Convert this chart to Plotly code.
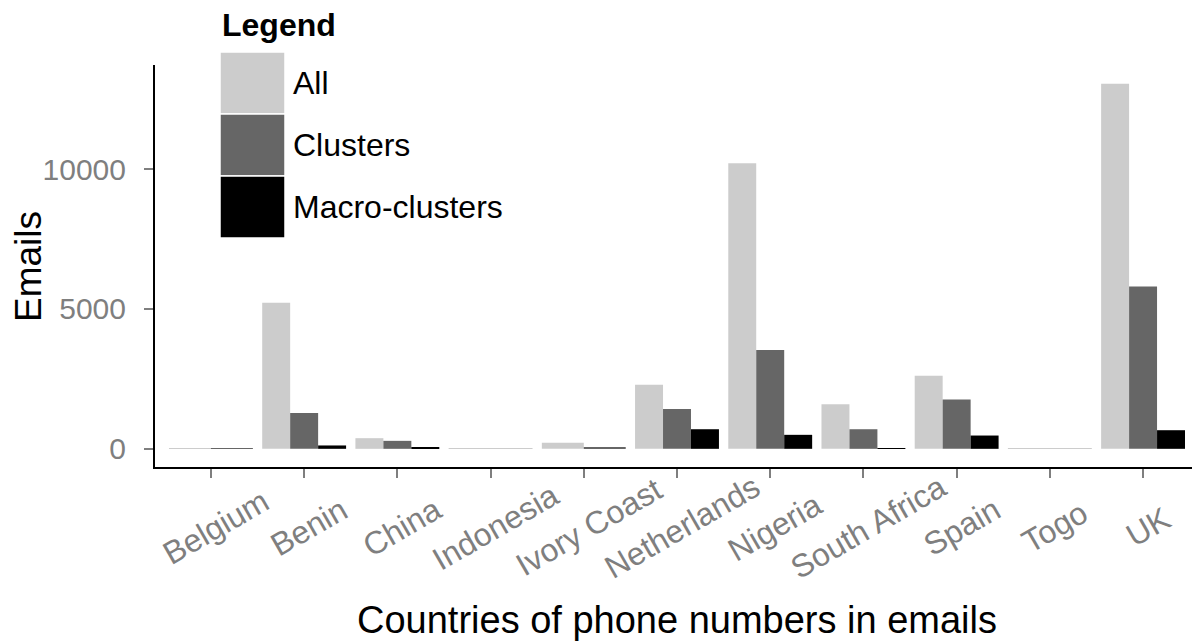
import plotly.graph_objects as go

countries = ["Belgium", "Benin", "China", "Indonesia", "Ivory Coast", "Netherlands",
             "Nigeria", "South Africa", "Spain", "Togo", "UK"]
all_vals = [20, 5225, 380, 5, 215, 2290, 10210, 1590, 2610, 10, 13050]
clusters_vals = [15, 1280, 285, None, 50, 1425, 3530, 700, 1760, None, 5800]
macro_vals = [None, 120, 50, None, None, 700, 500, 20, 475, None, 665]

series_names = ["All", "Clusters", "Macro-clusters"]
series_vals = [all_vals, clusters_vals, macro_vals]
series_colors = ["#cccccc", "#666666", "#000000"]

# ggplot-style dodge: bars of a group share 0.9 of the category width
GROUP_W = 0.9
offsets = [[0.0] * len(countries) for _ in series_vals]
widths = [[0.0] * len(countries) for _ in series_vals]
for j in range(len(countries)):
    present = [i for i, s in enumerate(series_vals) if s[j] is not None]
    n = len(present)
    for k, i in enumerate(present):
        widths[i][j] = GROUP_W / n
        offsets[i][j] = -GROUP_W / 2 + k * GROUP_W / n

fig = go.Figure()
for name, vals, col, off, wd in zip(series_names, series_vals, series_colors, offsets, widths):
    fig.add_trace(go.Bar(x=countries, y=vals, name=name, marker_color=col,
                         marker_line_width=0, offset=off, width=wd, showlegend=False))

FONT = "Liberation Sans, Arial, Helvetica, sans-serif"
PAGE_OFF = 8  # default body margin of the html page
W, H = 1200 - PAGE_OFF, 644 - PAGE_OFF
# plot-area edges in screenshot pixels
L, R, T, B = 155 - PAGE_OFF, 1199 - PAGE_OFF, 65 - PAGE_OFF, 467 - PAGE_OFF


def px_x(p):
    return (p - PAGE_OFF - L) / (R - L)


def px_y(p):
    return (B - (p - PAGE_OFF)) / (B - T)


fig.update_layout(
    width=W, height=H,
    margin=dict(l=L, r=W - R, t=T, b=H - B),
    paper_bgcolor="white", plot_bgcolor="white",
    barmode="overlay",
    font=dict(family=FONT),
    xaxis=dict(type="category", range=[-0.6, 10.6], showgrid=False, zeroline=False,
               automargin=False, showticklabels=False,
               showline=True, linecolor="black", linewidth=2,
               ticks="outside", ticklen=9, tickwidth=2, tickcolor="#7f7f7f"),
    yaxis=dict(range=[-650, 13720], showgrid=False, zeroline=False, automargin=False,
               showline=True, linecolor="black", linewidth=2,
               tickvals=[0, 5000, 10000], ticktext=["0", "5000", "10000"],
               ticks="outside", ticklen=9, tickwidth=2, tickcolor="#7f7f7f",
               ticklabelstandoff=12,
               tickfont=dict(size=30, color="#7f7f7f", family=FONT)),
)

# rotated, centred category labels (ggplot style)
for c in countries:
    fig.add_annotation(text=c, x=c, xref="x", yref="paper", y=px_y(527), xshift=5,
                       textangle=-30, showarrow=False, xanchor="center", yanchor="middle",
                       font=dict(size=32, color="#7f7f7f", family=FONT))

# axis titles
fig.add_annotation(text="Countries of phone numbers in emails", xref="paper", yref="paper",
                   x=px_x(677), y=px_y(620), showarrow=False, xanchor="center", yanchor="middle",
                   font=dict(size=38, color="black", family=FONT))
fig.add_annotation(text="Emails", xref="paper", yref="paper", textangle=-90,
                   x=px_x(28), y=px_y(267), showarrow=False, xanchor="center", yanchor="middle",
                   font=dict(size=37, color="black", family=FONT))

# custom legend (ggplot-style large keys)
fig.add_annotation(text="<b>Legend</b>", xref="paper", yref="paper", x=px_x(220), y=px_y(25),
                   showarrow=False, xanchor="left", yanchor="middle",
                   font=dict(size=32, color="black", family=FONT))
key_left, key_right = 220, 285
key_top, key_h = 52, 62
for i, (name, col) in enumerate(zip(series_names, series_colors)):
    top = key_top + i * key_h
    bot = top + key_h
    fig.add_shape(type="rect", xref="paper", yref="paper",
                  x0=px_x(key_left), x1=px_x(key_right), y0=px_y(bot), y1=px_y(top),
                  fillcolor=col, line=dict(color="white", width=1.5), layer="above")
    fig.add_annotation(text=name, xref="paper", yref="paper", x=px_x(291), y=px_y((top + bot) / 2),
                       showarrow=False, xanchor="left", yanchor="middle",
                       font=dict(size=32, color="black", family=FONT))

fig.write_html("out.html")
